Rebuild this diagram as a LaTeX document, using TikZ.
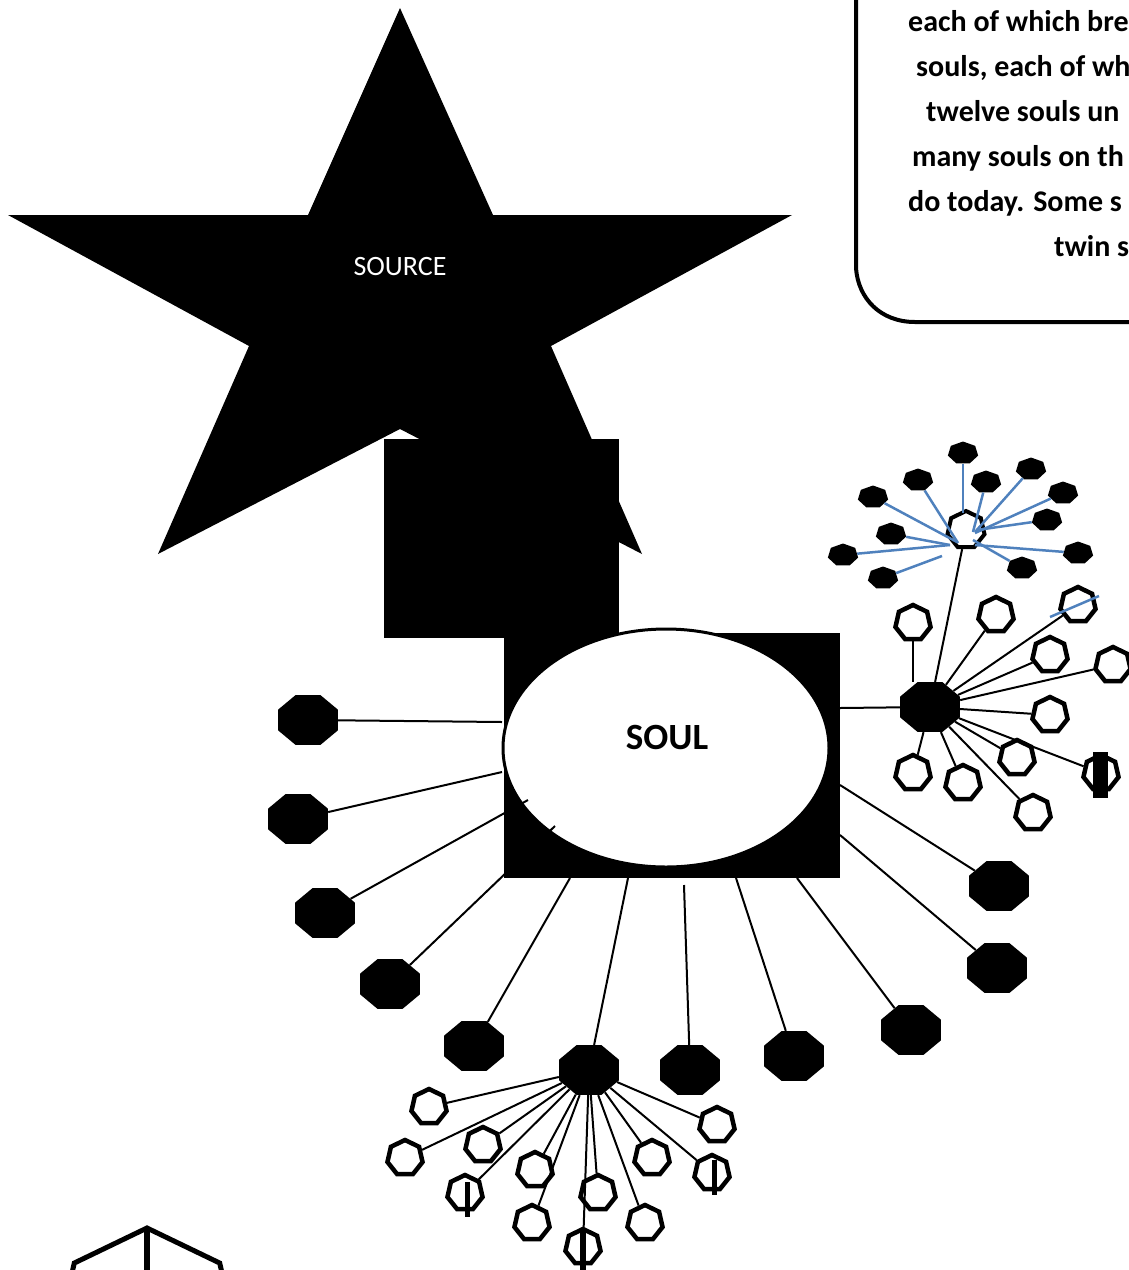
\documentclass[tikz,border=0pt]{standalone}
\usepackage{fontspec}
\setmainfont{Carlito}
\usepackage{tikz}
\usetikzlibrary{shapes.geometric}
\definecolor{almablue}{RGB}{79,129,189}

\begin{document}
\begin{tikzpicture}[x=1pt, y=-1pt,
    octo/.style={regular polygon, regular polygon sides=8, fill=black, inner sep=0pt, minimum size=54pt, xscale=1.2},
    hepta/.style={regular polygon, regular polygon sides=7, draw, line width=4.5pt, fill=white, inner sep=0pt, minimum size=36pt},
    spark/.style={regular polygon, regular polygon sides=7, fill=black, inner sep=0pt, minimum size=23pt, xscale=1.35},
    cord/.style={line width=2pt},
    bluecord/.style={line width=2.5pt, draw=almablue}]
        \useasboundingbox (0,0) rectangle (1129,1270);
        \clip (0,0) rectangle (1129,1270);
        % Estrella: la fuente
        \fill[line join=round] (400,8) -- (493,215) -- (792,215) -- (551,346) -- (642,554) -- (400,429) -- (158,554) -- (249,346) -- (8,215) -- (308,215) -- cycle;
        \node[text=white, font=\fontsize{28}{28}\selectfont] (source) at (400,267) {SOURCE};
        % Bloques negros bajo la estrella
        \fill (384,439) rectangle (619,638);
        \fill (504,633) rectangle (840,878);
        % Nodo central: el alma
        \node[ellipse, draw, line width=3pt, fill=white, minimum width=326pt, minimum height=238pt] (soul) at (666,748) {};
        \node[font=\bfseries\fontsize{37}{37}\selectfont] (soultext) at (667,737) {SOUL};
        % Cuadro de texto, cortado por el borde
        \draw[line width=4pt] (856,-10) -- (856,268) .. controls (858,298) and (880,322) .. (915,322) -- (1140,322);
        \foreach \i/\x/\y/\txt in {1/908/31/{each of which bre}, 2/916/76/{souls, each of wh}, 3/926/121/{twelve souls un}, 4/912/166/{many souls on th}, 5/908/211/{do today. Some s}, 6/1054/256/{twin s}}
            \node[anchor=base west, inner sep=0pt, font=\bfseries\fontsize{30}{30}\selectfont] (note\i) at (\x,\y) {\txt};
        % Almas hijas alrededor del alma
        \foreach \n/\x/\y in {west1/308/720, west2/298/819, west3/325/913, west4/390/984, west5/474/1046, south1/690/1070, south2/794/1056, south3/911/1030, east1/999/886, east2/997/968, hubright/930/707, hubbottom/589/1070}
            \node[octo] (\n) at (\x,\y) {};
        % Puntos de union en el bloque
        \foreach \n/\x/\y in {e1/502/722, e2/502/772, e3/528/800, e4/555/826, e5/570/878, e6/628/878, e7/684/885, e8/736/878, e9/797/878, e10/840/785, e11/840/835, e12/840/708}
            \coordinate (\n) at (\x,\y);
        \foreach \a/\b in {west1/e1, west2/e2, west3/e3, west4/e4, west5/e5, hubbottom/e6, south1/e7, south2/e8, south3/e9, east1/e10, east2/e11, hubright/e12}
            \draw[cord] (\a) -- (\b);
        % Racimo derecho
        \foreach \i/\x/\y in {1/913/623, 2/996/615, 3/1078/605, 4/1050/655, 5/1113/665, 6/1050/715, 7/1017/758, 8/1101/773, 9/1033/813, 10/963/783, 11/913/773}
            \node[hepta] (bud\i) at (\x,\y) {};
        \draw[cord] (bud1) -- (bud1 |- hubright.north);
        \foreach \i in {2,...,11}
            \draw[cord] (hubright) -- (bud\i);
        \fill (1093,752) rectangle (1108,798);
        % Racimo azul de arriba
        \node[hepta, minimum size=38pt, line width=4pt] (crown) at (966,530) {};
        \draw[cord] (hubright) -- (crown);
        \foreach \i/\x/\y/\ex/\ey in {1/963/453/963/513, 2/918/480/958/543, 3/873/497/957/542, 4/986/482/973/532, 5/1031/469/975/532, 6/1063/493/975/533, 7/1047/520/977/530, 8/891/534/950/545, 9/843/555/950/545, 10/883/578/942/556, 11/1022/568/973/540, 12/1078/553/975/545}
        {
            \node[spark] (spark\i) at (\x,\y) {};
            \coordinate (tip\i) at (\ex,\ey);
            \draw[bluecord] (spark\i) -- (tip\i);
        }
        \draw[bluecord] (1050,617) -- (1099,596);
        % Racimo de abajo
        \foreach \i/\x/\y in {1/429/1107, 2/405/1158, 3/483/1145, 4/465/1193, 5/535/1170, 6/532/1223, 7/583/1247, 8/598/1193, 9/645/1223, 10/652/1158, 11/712/1173, 12/717/1125}
            \node[hepta] (seed\i) at (\x,\y) {};
        \foreach \i in {1,...,12}
            \draw[cord] (hubbottom) -- (seed\i);
        \fill (464.5,1182) rectangle (469.5,1217);
        \fill (580,1230) rectangle (586,1272);
        \fill (711.5,1160) rectangle (716.5,1195);
        % Forma cortada abajo a la izquierda
        \node[hepta, minimum size=186pt, line width=5pt] (corner) at (147,1321) {};
        \fill (144,1228) rectangle (150,1275);
    \end{tikzpicture}
\end{document}
